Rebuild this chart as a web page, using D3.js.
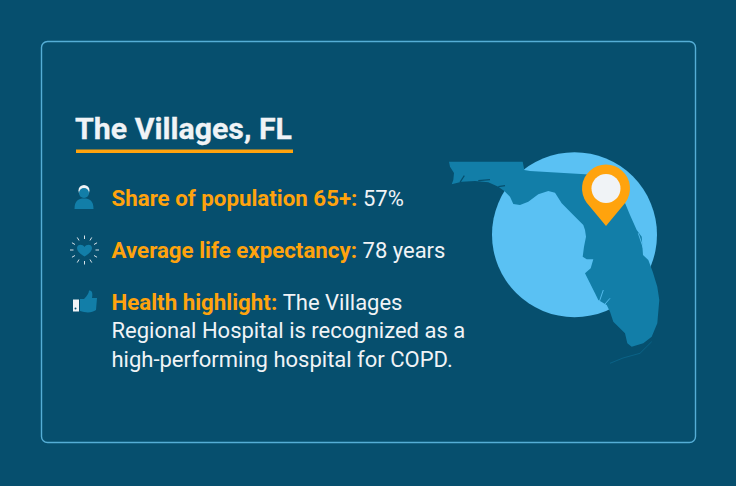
<!DOCTYPE html>
<html>
<head>
<meta charset="utf-8">
<script src="https://cdn.jsdelivr.net/npm/d3@7"></script>
<style>
  html, body { margin: 0; padding: 0; background: #064f6e; }
  svg { display: block; font-family: Roboto, sans-serif; }
</style>
</head>
<body>
<svg id="card" width="736" height="486"></svg>
<script>
const width = 736
const height = 486
const background = '#064f6e'
const orange = '#ffa30d'
const white = '#f0f3f6'
const blue = '#127ea8'
const water = '#5ac1f3'

// rows of the fact list, each a list of lines made of [text, bold]
const facts = [
  { y: 205.5, lines: [[['Share of population 65+: ', true], ['57%', false]]] },
  { y: 257.5, lines: [[['Average life expectancy: ', true], ['78 years', false]]] },
  { y: 309.5, lines: [
    [['Health highlight: ', true], ['The Villages', false]],
    [['Regional Hospital is recognized as a', false]],
    [['high-performing hospital for COPD.', false]]
  ] }
]

// state outline in a 240 unit map space
const florida = [
  [19,21.7],[92.7,21.7],[94.3,30],[100,31],[155,34.3],[176,36],[195,63],[200,75],[206.7,90],[211.7,96.7],
  [213,115],[218.3,120],[222.7,131.7],[227.3,146.7],[229.3,160],[227.3,183.3],[221.7,196.7],[213.3,203.3],
  [201.7,206.7],[197.3,203.3],[195,193.3],[183.3,181.7],[180,171.7],[176.7,165],[168.3,160],[165,153.3],
  [160,143.3],[155,133.3],[160.7,128.3],[163.3,119.3],[156.7,119.3],[152.7,116.7],[154,106.7],[156,96.7],
  [155,90],[153.3,85],[143.3,75],[131.7,63.3],[125,52.7],[118.3,51],[108.3,54.3],[98.3,61.7],[90,65],
  [83.3,64],[80,56.7],[74.3,51],[68.3,46.7],[58.3,42.3],[45,41],[31.7,41.7],[21.7,44.3],[23.3,40],[24,33],[20,26.7]
]
const keys = [[180,223.3],[193,218],[210,213.3],[221.7,201.7]]
const bays = [
  [[30,42.3],[34.3,35.7]],
  [[48.3,40.7],[60,39.7]],
  [[68.3,46.7],[75,45.7]]
]
const lagoons = [
  [[208.3,93.3],[214,110]],
  [[173.3,150],[169.3,161.7]],
  [[180,158.3],[175,164]]
]

const mapX = d3.scaleLinear().domain([0, 240]).range([430, 670])
const mapY = d3.scaleLinear().domain([0, 235]).range([140, 375])

const svg = d3.select('#card')

svg.append('rect')
  .attr('width', width)
  .attr('height', height)
  .attr('fill', background)

svg.append('rect')
  .attr('x', 41.5)
  .attr('y', 41.5)
  .attr('width', 654)
  .attr('height', 401)
  .attr('rx', 6)
  .attr('fill', 'none')
  .attr('stroke', '#55aed6')
  .attr('stroke-width', 1.4)

// title
svg.append('text')
  .attr('x', 75)
  .attr('y', 138.5)
  .attr('font-size', 30.3)
  .attr('font-weight', 700)
  .attr('fill', white)
  .attr('stroke', white)
  .attr('stroke-width', 0.3)
  .text('The Villages, FL')

svg.append('rect')
  .attr('x', 76)
  .attr('y', 149.5)
  .attr('width', 217)
  .attr('height', 3.5)
  .attr('fill', orange)

// fact list
facts.forEach(fact => {
  fact.lines.forEach((line, i) => {
    const text = svg.append('text')
      .attr('x', 111.5)
      .attr('y', fact.y + i * 28.5)
    line.forEach(([str, bold]) => {
      text.append('tspan')
        .attr('font-size', bold ? 22.3 : 22)
        .attr('font-weight', bold ? 700 : 400)
        .attr('fill', bold ? orange : white)
        .attr('xml:space', 'preserve')
        .text(str)
    })
  })
})

// person icon
const person = svg.append('g').attr('transform', 'translate(84,198)')
person.append('circle').attr('cy', -7.5).attr('r', 5.5).attr('fill', white)
person.append('circle').attr('cy', -5).attr('r', 5).attr('fill', blue)
person.append('path')
  .attr('d', 'M-9.500,11 C-9.500,3 -6,0.500 0,0.500 C6,0.500 9.500,3 9.500,11 Z')
  .attr('fill', blue)

// heart with rays
const heart = svg.append('g').attr('transform', 'translate(84.500,250)')
heart.append('path')
  .attr('d', 'M0,6.500 C-5,3.500 -7.500,1 -7.500,-2 C-7.500,-6 -2,-6.500 0,-3 C2,-6.500 7.500,-6 7.500,-2 C7.500,1 5,3.500 0,6.500 Z')
  .attr('fill', blue)
heart.selectAll('line')
  .data(d3.range(12))
  .enter()
  .append('line')
  .attr('x1', d => 11 * Math.cos(d * Math.PI / 6))
  .attr('y1', d => 11 * Math.sin(d * Math.PI / 6))
  .attr('x2', d => 14.500 * Math.cos(d * Math.PI / 6))
  .attr('y2', d => 14.500 * Math.sin(d * Math.PI / 6))
  .attr('stroke', white)
  .attr('stroke-width', 0.9)

// thumbs up
const thumb = svg.append('g').attr('transform', 'translate(72,290)')
thumb.append('rect').attr('x', 1).attr('y', 9.500).attr('width', 6).attr('height', 12).attr('fill', white)
thumb.append('circle').attr('cx', 3.500).attr('cy', 18.500).attr('r', 1).attr('fill', background)
thumb.append('path')
  .attr('d', 'M8,9 L12,9 C15,6 17,3 17,0.500 C20,0 21,3 20,8 L25,8 L24,20 C20,23 14,23 8,21 Z')
  .attr('fill', blue)

// map
svg.append('circle')
  .attr('cx', mapX(144.5))
  .attr('cy', mapY(94.7))
  .attr('r', mapX(82.5) - mapX(0))
  .attr('fill', water)

const outline = d3.line().x(d => mapX(d[0])).y(d => mapY(d[1]))

svg.append('path')
  .attr('d', outline(florida) + 'Z')
  .attr('fill', blue)

svg.append('path')
  .attr('d', outline(keys))
  .attr('fill', 'none')
  .attr('stroke', blue)
  .attr('stroke-width', 0.6)
  .attr('stroke-opacity', 0.7)

svg.selectAll('.bay')
  .data(bays)
  .enter()
  .append('path')
  .attr('class', 'bay')
  .attr('d', outline)
  .attr('fill', 'none')
  .attr('stroke', background)
  .attr('stroke-width', 1.2)

svg.selectAll('.lagoon')
  .data(lagoons)
  .enter()
  .append('path')
  .attr('class', 'lagoon')
  .attr('d', outline)
  .attr('fill', 'none')
  .attr('stroke', water)
  .attr('stroke-width', 0.9)

// pin
const pin = svg.append('g')
  .attr('transform', `translate(${mapX(176)},${mapY(48.5)})`)
pin.append('path')
  .attr('d', 'M0,37.500 L-19.500,14 A24,24 0 1 1 19.500,14 Z')
  .attr('fill', orange)
pin.append('circle')
  .attr('r', 14.500)
  .attr('fill', white)
</script>
</body>
</html>
